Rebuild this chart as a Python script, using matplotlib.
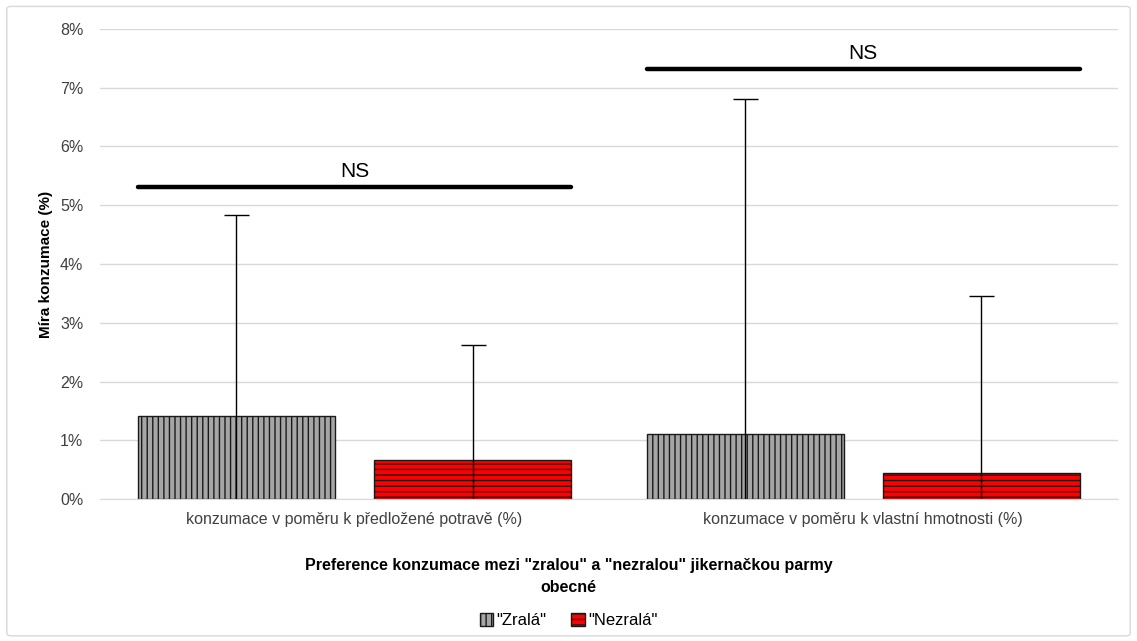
import matplotlib.pyplot as plt
import numpy as np
from matplotlib.patches import Patch, FancyBboxPatch
from matplotlib.ticker import PercentFormatter

# data (% consumption)
categories = ["konzumace v poměru k předložené potravě (%)",
              "konzumace v poměru k vlastní hmotnosti (%)"]
zrala = [1.41, 1.11]
zrala_sd = [3.42, 5.70]
nezrala = [0.66, 0.44]
nezrala_sd = [1.96, 3.02]
ns_levels = [5.31, 7.32]

plt.rcParams['font.family'] = ["Liberation Sans", "DejaVu Sans"]
plt.rcParams['hatch.linewidth'] = 1.0

fig = plt.figure(figsize=(11.37, 6.41), dpi=100)
ax = fig.add_axes([0.088, 0.2215, 0.895, 0.7333])

# outer frame of the chart area
fig.patches.append(FancyBboxPatch((0.006, 0.008), 0.988, 0.982, boxstyle="round,pad=0,rounding_size=0.004",
                                  transform=fig.transFigure, facecolor="none",
                                  edgecolor="#D9D9D9", linewidth=1.0))

x = np.arange(len(categories))
w = 0.387
off = 0.232
ax.bar(x - off, zrala, w, color="#A6A6A6", edgecolor="#1A1A1A", hatch="|||", linewidth=1.0, zorder=2)
ax.bar(x + off, nezrala, w, color="#FF0000", edgecolor="#1A1A1A", hatch="---", linewidth=1.0, zorder=2)
ax.errorbar(x - off, zrala, yerr=zrala_sd, fmt="none", ecolor="black", elinewidth=1.0, capsize=9, zorder=3)
ax.errorbar(x + off, nezrala, yerr=nezrala_sd, fmt="none", ecolor="black", elinewidth=1.0, capsize=9, zorder=3)

# significance lines
for xi, lvl in zip(x, ns_levels):
    ax.plot([xi - off - w / 2, xi + off + w / 2], [lvl, lvl], color="black", lw=3.2,
            solid_capstyle="round", zorder=4)
    ax.text(xi, lvl + 0.1, "NS", ha="center", va="bottom", fontsize=15, zorder=4)

ax.set_xlim(-0.5, 1.5)
ax.set_ylim(0, 8)
ax.set_yticks(np.arange(0, 9, 1))
ax.yaxis.set_major_formatter(PercentFormatter(decimals=0))
ax.set_xticks(x)
ax.set_xticklabels(categories, fontsize=11.5, color="#404040")
ax.tick_params(axis="y", length=0, pad=12, labelsize=11.5, labelcolor="#404040")
ax.tick_params(axis="x", length=0, pad=9)
ax.grid(axis="y", color="#D9D9D9", linewidth=1.0, zorder=0)
ax.set_axisbelow(True)
for s in ["top", "right", "left"]:
    ax.spines[s].set_visible(False)
ax.spines["bottom"].set_color("#D9D9D9")

ax.set_ylabel("Míra konzumace (%)", fontsize=11, fontweight="bold", labelpad=5)
fig.text(0.5, 0.10, 'Preference konzumace mezi "zralou" a "nezralou" jikernačkou parmy\nobecné',
         ha="center", va="center", fontsize=11.5, fontweight="bold", linespacing=1.6)

handles = [Patch(facecolor="#A6A6A6", edgecolor="#1A1A1A", hatch="|||", label='"Zralá"'),
           Patch(facecolor="#FF0000", edgecolor="#1A1A1A", hatch="---", label='"Nezralá"')]
fig.legend(handles=handles, loc="center", bbox_to_anchor=(0.5, 0.032), ncol=2, frameon=False,
           handlelength=0.8, handleheight=0.8, handletextpad=0.2, columnspacing=1.5,
           prop={"size": 12})

fig.savefig("out.png", dpi=100)
